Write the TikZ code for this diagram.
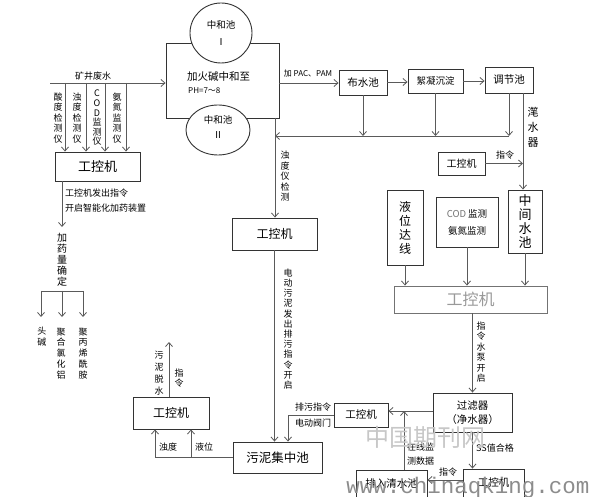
\documentclass[tikz,border=0pt]{standalone}
\usepackage{fontspec}
\setmainfont{Noto Sans CJK SC}
\newfontfamily\monowm{Liberation Mono}
\usetikzlibrary{arrows.meta,shapes.geometric}
\definecolor{lc}{HTML}{5A5A5A}
\definecolor{bc}{HTML}{333333}
\newcommand\fsz[2]{\fontsize{#1}{#2}\selectfont}
\begin{document}
\begin{tikzpicture}[x=1pt,y=-1pt,
  box/.style={draw=bc,line width=0.9pt,inner sep=0pt,align=center,fill=white},
  ell/.style={ellipse,draw=bc,line width=0.9pt,fill=white,inner sep=0pt},
  ln/.style={draw=lc,line width=0.9pt},
  arr/.style={draw=lc,line width=0.9pt,-{Straight Barb[length=4pt,width=7pt,line width=0.8pt]}},
  lab/.style={font=\fsz{9}{10},inner sep=0pt},
  vl/.style={align=center,inner sep=0pt,font=\fsz{9}{10.5}}]
\useasboundingbox (0,0) rectangle (592,497);

% ---------- neutralisation block ----------
\node[box,fill=none,minimum width=113pt,minimum height=75pt] (main) at (222.5,80.5) {};
\coordinate (v0) at (275,118);
\coordinate (r0) at (275,136);
\node[box,minimum width=85pt,minimum height=32pt,font=\fsz{12}{13}] (b2) at (274.5,234) {工控机};
\draw[arr] (v0) -- (v0 |- b2.north);
\node[ell,minimum width=62pt,minimum height=60pt] (c1) at (221,33) {};
\node[align=center,inner sep=0pt,font=\fsz{9.5}{17}] (c1t) at (221,33.5) {中和池\\Ⅰ};
\node[ell,minimum width=64pt,minimum height=50pt] (c2) at (218,130) {};
\node[align=center,inner sep=0pt,font=\fsz{9.5}{15}] (c2t) at (218,127.5) {中和池\\Ⅱ};
\node[anchor=west,inner sep=0pt,font=\fsz{10.5}{12}] (mt) at (187,77) {加火碱中和至};
\node[anchor=west,inner sep=0pt,font=\fsz{8}{9}] (ph) at (188,91) {PH=7～8};

% ---------- input and sensors ----------
\coordinate (in0) at (50,83);
\draw[arr] (in0) -- (in0 -| main.west);
\node[lab] (kj) at (93,76) {矿井废水};
\node[box,minimum width=85pt,minimum height=29pt,font=\fsz{13}{14}] (b1) at (97.5,166.5) {工控机};
\coordinate (d1) at (65,83);
\coordinate (d2) at (86,83);
\coordinate (d3) at (105,83);
\coordinate (d4) at (126,83);
\draw[arr] (d1) -- (d1 |- b1.north);
\draw[arr] (d2) -- (d2 |- b1.north);
\draw[arr] (d3) -- (d3 |- b1.north);
\draw[arr] (d4) -- (d4 |- b1.north);
\node[vl] (s1) at (58,118) {酸\\度\\检\\测\\仪};
\node[vl] (s2) at (77,118) {浊\\度\\检\\测\\仪};
\node[vl,font=\fsz{9}{9.6}] (s3) at (97,118) {C\\O\\D\\监\\测\\仪};
\node[vl] (s4) at (117,118) {氨\\氮\\监\\测\\仪};

% ---------- dosing ----------
\coordinate (g1) at (62,227);
\draw[arr] (g1 |- b1.south) -- (g1);
\node[lab,anchor=west] (ins1) at (65,193) {工控机发出指令};
\node[lab,anchor=west] (ins2) at (65,208) {开启智能化加药装置};
\node[vl,font=\fsz{10}{11}] (dose) at (62,260) {加\\药\\量\\确\\定};
\coordinate (k1) at (41,291);
\coordinate (k2) at (62,291);
\coordinate (k3) at (83,291);
\coordinate (m1) at (41,317);
\coordinate (m2) at (62,317);
\coordinate (m3) at (83,317);
\draw[ln] (k1) -- (k3);
\draw[arr] (k1) -- (m1);
\draw[arr] (k2) -- (m2);
\draw[arr] (k3) -- (m3);
\node[vl,font=\fsz{9}{11}] (h1) at (42,337) {头\\碱};
\node[vl,font=\fsz{9}{10.8}] (h2) at (61,353.5) {聚\\合\\氯\\化\\铝};
\node[vl,font=\fsz{9}{10.8}] (h3) at (83,353.5) {聚\\丙\\烯\\酰\\胺};

% ---------- top process line ----------
\node[box,minimum width=48pt,minimum height=25pt,font=\fsz{10.5}{12}] (bs) at (363,82.5) {布水池};
\node[box,minimum width=55pt,minimum height=24pt,font=\fsz{9.5}{11}] (xn) at (435.5,81) {絮凝沉淀};
\node[box,minimum width=48pt,minimum height=26pt,font=\fsz{10.5}{12}] (tj) at (509,80) {调节池};
\coordinate (p0) at (279,83);
\draw[arr] (p0) -- (p0 -| bs.west);
\node[inner sep=0pt,font=\fsz{8}{9}] (pac) at (308,74) {加 PAC、PAM};
\draw[arr] (bs.east |- 0,82) -- (xn.west |- 0,82);
\draw[arr] (xn.east |- 0,81) -- (tj.west |- 0,81);
\draw[arr] (bs.south) -- (bs.south |- r0);
\draw[arr] (xn.south) -- (xn.south |- r0);
\draw[arr] (tj.south) -- (tj.south |- r0);
\coordinate (r1) at (509,136);
\draw[arr] (r1) -- (r0);
\node[vl] (zd) at (285,176.5) {浊\\度\\仪\\检\\测};

% ---------- sludge pool ----------
\node[box,minimum width=89pt,minimum height=31pt,font=\fsz{12.5}{14}] (sl) at (277.5,457.5) {污泥集中池};
\draw[arr] (b2.south) -- (b2.south |- sl.north);
\node[vl,font=\fsz{9}{10.2}] (dd) at (288,329) {电\\动\\污\\泥\\发\\出\\排\\污\\指\\令\\开\\启};

% ---------- right column ----------
\coordinate (w0) at (523,93);
\node[box,minimum width=34pt,minimum height=63pt,font=\fsz{13}{14}] (zj) at (525,221.5) {中\\间\\水\\池};
\draw[arr] (w0) -- (w0 |- zj.north);
\node[vl,font=\fsz{11}{15}] (bq) at (533,127) {滗\\水\\器};
\node[box,minimum width=47pt,minimum height=23pt,font=\fsz{10}{11}] (b7) at (461.5,163.5) {工控机};
\draw[arr] (b7.east) -- (b7.east -| w0);
\node[lab] (zl1) at (505,155) {指令};
\node[box,minimum width=36pt,minimum height=75pt,font=\fsz{12}{14}] (lw) at (405,227.5) {液\\位\\达\\线};
\node[box,minimum width=62pt,minimum height=50pt,font=\fsz{9.5}{17}] (cod) at (467,222) {{\color{black!55}COD} 监测\\氨氮监测};
\node[box,draw=black!55,minimum width=153pt,minimum height=27pt,font=\fsz{16}{17},text=black!40] (b3) at (470.5,299.5) {工控机};
\draw[arr] (lw.south) -- (lw.south |- b3.north);
\draw[arr] (cod.south) -- (cod.south |- b3.north);
\draw[arr] (zj.south) -- (zj.south |- b3.north);

% ---------- filter ----------
\node[box,minimum width=79pt,minimum height=39pt,font=\fsz{10.5}{14}] (gl) at (472.5,412.5) {过滤器\\（净水器）};
\draw[arr] (b3.south -| gl.north) -- (gl.north);
\node[vl] (sb) at (481,352) {指\\令\\水\\泵\\开\\启};
\node[box,minimum width=54pt,minimum height=24pt,font=\fsz{10.5}{12}] (b4) at (361,415) {工控机};
\draw[arr] (gl.west |- 0,411) -- (b4.east |- 0,411);
\coordinate (e1) at (288,415);
\draw[arr] (b4.west) -- (e1) -- (e1 |- sl.north);
\node[lab] (pw) at (313,407) {排污指令};
\node[lab] (df) at (313,423) {电动阀门};
\node[box,minimum width=71pt,minimum height=27pt,font=\fsz{10.5}{12}] (qs) at (391.5,484) {排入清水池};
\node[box,minimum width=61pt,minimum height=28pt,font=\fsz{10.5}{12}] (b5) at (493.5,483) {工控机};
\coordinate (u1) at (404,411);
\draw[arr] (u1 |- qs.north) -- (u1);
\node[lab,anchor=west] (zx1) at (407,447) {在线监};
\node[lab,anchor=west] (zx2) at (407,461) {测数据};
\draw[arr] (gl.south) -- (gl.south |- b5.north);
\node[lab,anchor=west] (ss) at (476,448) {SS值合格};
\draw[arr] (b5.west |- 0,480) -- (qs.east |- 0,480);
\node[lab] (zl2) at (448,472) {指令};

% ---------- sludge dewatering ----------
\node[box,minimum width=76pt,minimum height=32pt,font=\fsz{12}{13}] (b6) at (171,413) {工控机};
\coordinate (up1) at (169,342);
\draw[arr] (up1 |- b6.north) -- (up1);
\node[vl,font=\fsz{9}{12}] (tw) at (159,373.5) {污\\泥\\脱\\水};
\node[vl,font=\fsz{9}{10.7}] (zl3) at (179,378) {指\\令};
\coordinate (q1) at (155,457);
\coordinate (q2) at (191,457);
\draw[arr] (sl.west |- q1) -- (q1) -- (q1 |- b6.south);
\draw[arr] (q2) -- (q2 |- b6.south);
\node[lab] (zd2) at (168,447) {浊度};
\node[lab] (yw) at (204,447) {液位};

% ---------- watermark ----------
\node[inner sep=0pt,font=\fsz{24}{26},text=black!22] (wm1) at (425,437) {中国期刊网};
\node[inner sep=0pt,font=\monowm\fsz{22.5}{24},text=black!45] (wm2) at (468,488) {www.chinaqking.com};
\end{tikzpicture}
\end{document}
